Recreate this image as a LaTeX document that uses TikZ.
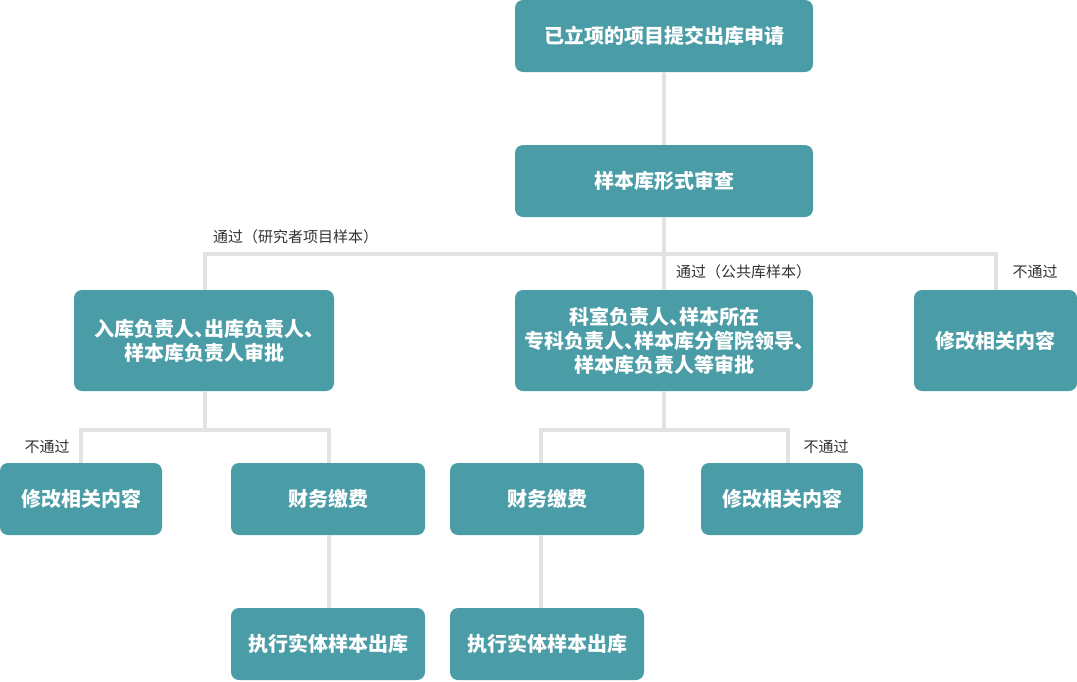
\documentclass[tikz,border=0pt]{standalone}
\usepackage{fontspec}
\newfontfamily\cjk[RawFeature={+halt}]{Noto Sans CJK SC}
\newfontfamily\cjklab{Noto Sans CJK SC}
\definecolor{boxc}{HTML}{4A9CA6}
\definecolor{linec}{HTML}{E3E3E3}
\definecolor{labc}{HTML}{333333}
\tikzset{
  box/.style={fill=boxc, rounded corners=8pt, inner sep=0pt, align=center,
    text=white, font=\cjk\bfseries\fontsize{20}{24}\selectfont},
  conn/.style={draw=linec, line width=4pt},
  lab/.style={text=labc, inner sep=0pt, font=\cjklab\fontsize{15}{18}\selectfont}
}
\begin{document}
\begin{tikzpicture}[x=1pt,y=-1pt]
\useasboundingbox (0,0) rectangle (1077,681);
% boxes
\node[box, minimum width=298pt, minimum height=72pt] (b1) at (664,36) {已立项的项目提交出库申请};
\node[box, minimum width=298pt, minimum height=72pt] (b2) at (664,181) {样本库形式审查};
\node[box, minimum width=260pt, minimum height=101pt] (b3) at (204,340.5) {入库负责人、出库负责人、\\样本库负责人审批};
\node[box, minimum width=298pt, minimum height=101pt] (b4) at (664,340.5) {科室负责人、样本所在\\专科负责人、样本库分管院领导、\\样本库负责人等审批};
\node[box, minimum width=163pt, minimum height=101pt] (b5) at (995.5,340.5) {修改相关内容};
\node[box, minimum width=162pt, minimum height=72pt] (b6) at (81,499) {修改相关内容};
\node[box, minimum width=194pt, minimum height=72pt] (b7) at (328,499) {财务缴费};
\node[box, minimum width=194pt, minimum height=72pt] (b8) at (547,499) {财务缴费};
\node[box, minimum width=162pt, minimum height=72pt] (b9) at (782,499) {修改相关内容};
\node[box, minimum width=194pt, minimum height=72pt] (b10) at (328,644) {执行实体样本出库};
\node[box, minimum width=194pt, minimum height=72pt] (b11) at (547,644) {执行实体样本出库};
% junctions
\coordinate (j1) at (664,254);
\coordinate (j2) at (205,430);
\coordinate (j3) at (664,430);
% connectors
\draw[conn] (b1.south) -- (b2.north);
\draw[conn] (b2.south) -- (b4.north);
\draw[conn] ([xshift=1pt]b3.north) |- (j1) -| (b5.north);
\draw[conn] ([xshift=1pt]b3.south) -- (j2);
\draw[conn] (b6.north) |- (j2) -| ([xshift=1pt]b7.north);
\draw[conn] (b4.south) -- (j3);
\draw[conn] ([xshift=-6pt]b8.north) |- (j3) -| ([xshift=6pt]b9.north);
\draw[conn] ([xshift=1pt]b7.south) -- ([xshift=1pt]b10.north);
\draw[conn] ([xshift=-6pt]b8.south) -- ([xshift=-6pt]b11.north);
% labels
\node[lab, anchor=west] (l1) at (213,237) {通过（研究者项目样本）};
\node[lab, anchor=west] (l2) at (676,272) {通过（公共库样本）};
\node[lab] (l3) at (1035,272) {不通过};
\node[lab] (l4) at (47,447) {不通过};
\node[lab] (l5) at (826,447) {不通过};
\end{tikzpicture}
\end{document}
